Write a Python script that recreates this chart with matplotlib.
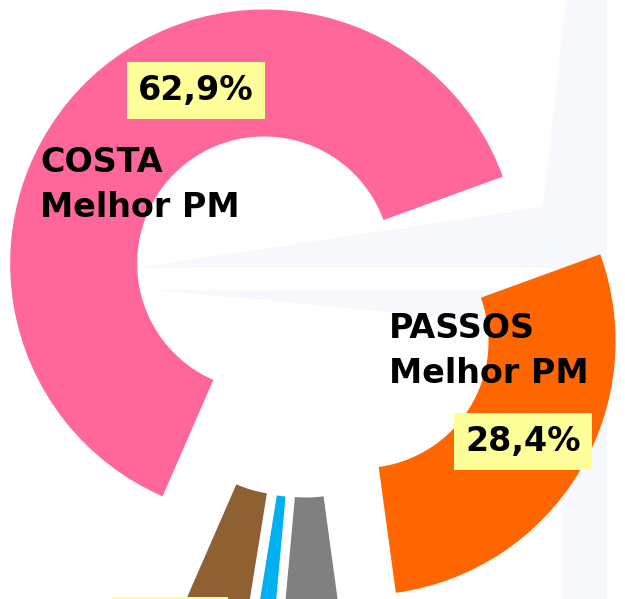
import matplotlib.pyplot as plt
from matplotlib.patches import Polygon

# ==========================
# Data
# ==========================
candidatos = ["COSTA", "Outro", "Nenhum", "NS/NR", "PASSOS"]
valores = [62.9, 4.0, 1.1, 3.6, 28.4]
cores = ["#FF6699", "#8F6132", "#00B0F0", "#808080", "#FF6600"]
rotulos_pct = ["62,9%", "4,0%", "", "", "28,4%"]

# ==========================
# Figure (pixel-like data coords, y up)
# ==========================
W, H = 625, 599
fig = plt.figure(figsize=(W / 100, H / 100), dpi=100)
ax = fig.add_axes([0, 0, 1, 1])

# faint background shapes of the original slide
fundo = "#F6F8FB"
ax.add_patch(Polygon([(566, H - 0), (607, H - 0), (607, H - 268), (135, H - 268), (543, H - 207)],
                     closed=True, facecolor=fundo, edgecolor="none", zorder=0))
ax.add_patch(Polygon([(155, H - 290), (607, H - 290), (607, 0), (562, 0), (562, H - 328)],
                     closed=True, facecolor=fundo, edgecolor="none", zorder=0))

# ==========================
# Donut
# ==========================
raio = 254
centro = (305, H - 307)
explode = [f * raio for f in [0.235, 0.25, 0.25, 0.25, 0.26]]

ax.pie(
    valores,
    colors=cores,
    startangle=20,
    counterclock=True,
    radius=raio,
    center=centro,
    explode=explode,
    wedgeprops=dict(width=0.5 * raio, edgecolor="none"),
)

# ==========================
# Labels
# ==========================
fonte = dict(family="DejaVu Sans", weight="bold", color="black")
caixa = dict(boxstyle="square,pad=0.35", facecolor="#FFFF99", edgecolor="none")

ax.text(40, H - 172, "COSTA", ha="left", va="baseline", fontsize=24, **fonte)
ax.text(40, H - 217, "Melhor PM", ha="left", va="baseline", fontsize=24, **fonte)
ax.text(389, H - 338, "PASSOS", ha="left", va="baseline", fontsize=24, **fonte)
ax.text(389, H - 383, "Melhor PM", ha="left", va="baseline", fontsize=24, **fonte)

ax.text(196, H - 100, rotulos_pct[0], ha="center", va="baseline", fontsize=24, bbox=caixa, **fonte)
ax.text(523, H - 451, rotulos_pct[4], ha="center", va="baseline", fontsize=24, bbox=caixa, **fonte)
ax.text(170, H - 635, rotulos_pct[1], ha="center", va="baseline", fontsize=24, bbox=caixa, **fonte)

ax.set_xlim(0, W)
ax.set_ylim(0, H)
ax.set_aspect("equal")
ax.axis("off")

plt.savefig("out.png", dpi=100)
plt.close()
